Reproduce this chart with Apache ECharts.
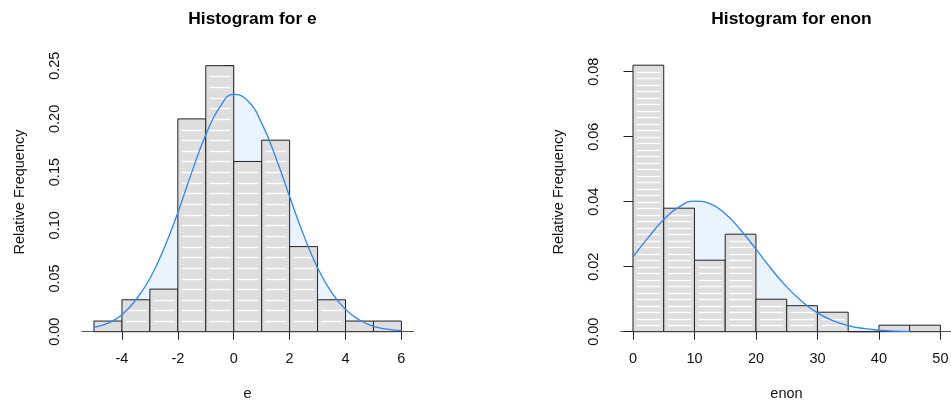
<!DOCTYPE html>
<html>
<head>
<meta charset="utf-8">
<script src="https://cdn.jsdelivr.net/npm/echarts@6/dist/echarts.min.js"></script>
<style>
  html, body { margin: 0; padding: 0; background: #fff; }
  #main { width: 951px; height: 402px; }
</style>
</head>
<body>
<div id="main"></div>
<script>
// histogram bins (relative frequency per unit)
var nObs = 100;
var eBreaks = [-5, -4, -3, -2, -1, 0, 1, 2, 3, 4, 5, 6];
var eFreq = [0.01, 0.03, 0.04, 0.20, 0.25, 0.16, 0.18, 0.08, 0.03, 0.01, 0.01];
var enonBreaks = [0, 5, 10, 15, 20, 25, 30, 35, 40, 45, 50];
var enonFreq = [0.082, 0.038, 0.022, 0.030, 0.010, 0.008, 0.006, 0, 0.002, 0.002];

// fitted curves
var eCurveX = [-5, -4.5, -4, -3.5, -3, -2.5, -2, -1.5, -1, -0.5, 0, 0.5, 1, 1.5, 2, 2.5, 3, 3.5, 4, 4.5, 5, 5.5, 6];
var eCurveY = [0.004, 0.008, 0.016, 0.030, 0.050, 0.078, 0.112, 0.150, 0.185, 0.211, 0.223, 0.217, 0.196, 0.164, 0.127, 0.091, 0.060, 0.037, 0.021, 0.011, 0.005, 0.0024, 0.001];
var enonCurveX = [0, 2.5, 5, 7.5, 10, 12.5, 15, 17.5, 20, 22.5, 25, 27.5, 30, 32.5, 35, 37.5, 40, 42.5, 45];
var enonCurveY = [0.0230, 0.0290, 0.0345, 0.0384, 0.0402, 0.0394, 0.0363, 0.0313, 0.0254, 0.0193, 0.0138, 0.0093, 0.0058, 0.0034, 0.0019, 0.0010, 0.0005, 0.0002, 0.0001];

// tick labels
var eTicks = [-4, -2, 0, 2, 4, 6];
var enonTicks = [0, 10, 20, 30, 40, 50];

var FONT = "'Liberation Sans', Arial, Helvetica, sans-serif";
var blue = '#2f86f6';
var blueFill = '#e9f4fe';

function binData(breaks, freq) {
    var out = [];
    for (var i = 0; i < freq.length; i++) {
        out.push([breaks[i], breaks[i + 1], freq[i]]);
    }
    return out;
}

function pairs(xs, ys) {
    return xs.map(function (x, i) { return [x, ys[i]]; });
}

// bars with a white dash at each count step
function makeRender(unit) {
    return function (params, api) {
        var x0 = api.value(0), x1 = api.value(1), v = api.value(2);
        var p0 = api.coord([x0, v]);
        var p1 = api.coord([x1, 0]);
        var children = [{
            type: 'rect',
            shape: { x: p0[0], y: p0[1], width: p1[0] - p0[0], height: p1[1] - p0[1] },
            style: { fill: '#dedede', stroke: '#222', lineWidth: 1 }
        }];
        var n = Math.round(v / unit);
        for (var k = 1; k < n; k++) {
            var y = Math.round(api.coord([x0, k * unit])[1]) + 0.5;
            children.push({
                type: 'line',
                shape: { x1: p0[0] + 4, y1: y, x2: p1[0] - 3.5, y2: y },
                style: { stroke: '#ffffff', lineWidth: 1.4 }
            });
        }
        return { type: 'group', children: children };
    };
}

function xAxisCfg(idx, min, max, ticks) {
    return {
        type: 'value', gridIndex: idx, min: min, max: max,
        splitLine: { show: false },
        axisLine: { lineStyle: { color: '#555', width: 1 } },
        axisTick: { customValues: ticks, length: 8, lineStyle: { color: '#222' } },
        axisLabel: { customValues: ticks, margin: 20, fontSize: 14.5, fontFamily: FONT, color: '#111' }
    };
}

function yAxisCfg(idx, max, step) {
    return {
        type: 'value', gridIndex: idx, min: 0, max: max, interval: step,
        splitLine: { show: false },
        axisLine: { show: true, lineStyle: { color: '#222', width: 1 } },
        axisTick: { show: true, length: 9.5, lineStyle: { color: '#222' } },
        axisLabel: {
            rotate: 90, margin: 19, fontSize: 14.5, fontFamily: FONT, color: '#111',
            formatter: function (v) { return v.toFixed(2); }
        }
    };
}

var myChart = echarts.init(document.getElementById('main'), null, { renderer: 'canvas' });

var option = {
    animation: false,
    backgroundColor: '#ffffff',
    title: [
        { text: 'Histogram for e', left: 247.5, top: 6, textAlign: 'center',
          textStyle: { fontSize: 17.4, fontWeight: 'bold', fontFamily: FONT, color: '#000' } },
        { text: 'Histogram for enon', left: 786.5, top: 6, textAlign: 'center',
          textStyle: { fontSize: 17.4, fontWeight: 'bold', fontFamily: FONT, color: '#000' } }
    ],
    grid: [
        { left: 81.7, top: 65.7, width: 332, height: 266, outerBoundsMode: 'none' },
        { left: 620.7, top: 71.7, width: 332, height: 260, outerBoundsMode: 'none' }
    ],
    xAxis: [
        xAxisCfg(0, -5.44, 6.44, eTicks),
        xAxisCfg(1, -2, 52, enonTicks)
    ],
    yAxis: [
        yAxisCfg(0, 0.25, 0.05),
        yAxisCfg(1, 0.08, 0.02)
    ],
    graphic: [
        { type: 'text', x: 247.5, y: 394, style: { text: 'e', fontSize: 14.5, fontFamily: FONT, fill: '#111', align: 'center', verticalAlign: 'middle' } },
        { type: 'text', x: 786.5, y: 394, style: { text: 'enon', fontSize: 14.5, fontFamily: FONT, fill: '#111', align: 'center', verticalAlign: 'middle' } },
        { type: 'text', x: 20, y: 192, rotation: Math.PI / 2, style: { text: 'Relative Frequency', fontSize: 14.5, fontFamily: FONT, fill: '#111', align: 'center', verticalAlign: 'middle' } },
        { type: 'text', x: 559, y: 192, rotation: Math.PI / 2, style: { text: 'Relative Frequency', fontSize: 14.5, fontFamily: FONT, fill: '#111', align: 'center', verticalAlign: 'middle' } }
    ],
    series: [
        // light fill under the curves
        { type: 'line', xAxisIndex: 0, yAxisIndex: 0, data: pairs(eCurveX, eCurveY), smooth: true,
          showSymbol: false, lineStyle: { width: 0 }, areaStyle: { color: blueFill, opacity: 1 }, z: 1 },
        { type: 'line', xAxisIndex: 1, yAxisIndex: 1, data: pairs(enonCurveX, enonCurveY), smooth: true,
          showSymbol: false, lineStyle: { width: 0 }, areaStyle: { color: blueFill, opacity: 1 }, z: 1 },
        // histograms
        { type: 'custom', xAxisIndex: 0, yAxisIndex: 0, data: binData(eBreaks, eFreq),
          renderItem: makeRender(1 / (nObs * 1)), clip: false, z: 2 },
        { type: 'custom', xAxisIndex: 1, yAxisIndex: 1, data: binData(enonBreaks, enonFreq),
          renderItem: makeRender(1 / (nObs * 5)), clip: false, z: 2 },
        // curve lines
        { type: 'line', xAxisIndex: 0, yAxisIndex: 0, data: pairs(eCurveX, eCurveY), smooth: true,
          showSymbol: false, lineStyle: { color: blue, width: 1.3 }, z: 3 },
        { type: 'line', xAxisIndex: 1, yAxisIndex: 1, data: pairs(enonCurveX, enonCurveY), smooth: true,
          showSymbol: false, lineStyle: { color: blue, width: 1.3 }, z: 3 }
    ]
};

myChart.setOption(option);
</script>
</body>
</html>
